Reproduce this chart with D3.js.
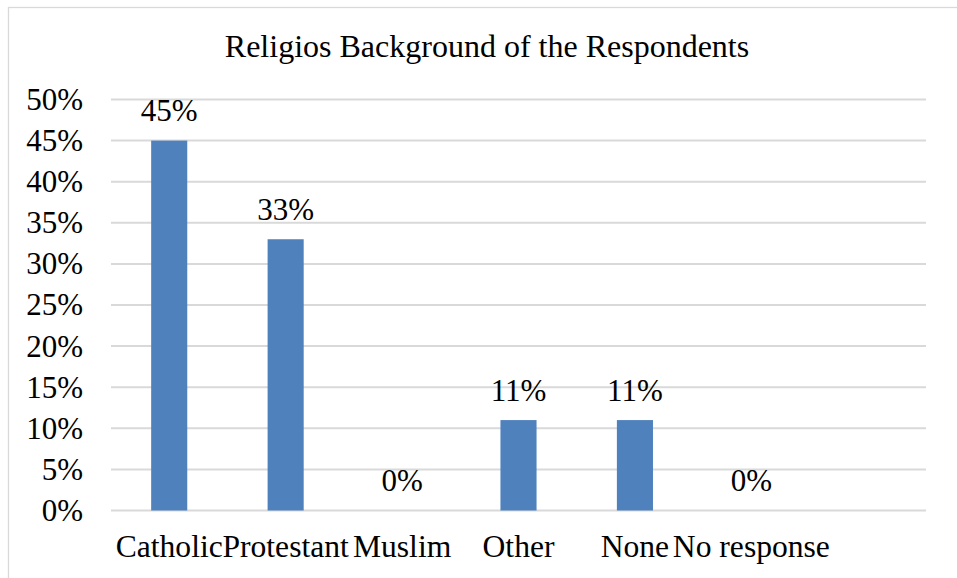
<!DOCTYPE html>
<html>
<head>
<meta charset="utf-8">
<script src="https://cdn.jsdelivr.net/npm/d3@7"></script>
<style>
  html, body { margin: 0; padding: 0; background: #fff; }
  svg { display: block; }
</style>
</head>
<body>
<svg id="chart" width="957" height="578"></svg>
<script>
// Religious background shares (percent)
const categories = ["Catholic", "Protestant", "Muslim", "Other", "None", "No response"];
const values = [45, 33, 0, 11, 11, 0];
const yTicks = [0, 5, 10, 15, 20, 25, 30, 35, 40, 45, 50];
const title = "Religios Background of the Respondents";

const FONT = '"Liberation Serif", "Times New Roman", serif';
const svg = d3.select("#chart");
const W = 957, H = 578;
const plot = { left: 111, right: 926, top: 99.5, bottom: 510.5 };

// Chart frame
svg.append("rect")
  .attr("x", 8.5).attr("y", 7.5)
  .attr("width", W + 20).attr("height", H + 20)
  .attr("fill", "#fff")
  .attr("stroke", "#d9d9d9").attr("stroke-width", 1.3);

// Title
svg.append("text")
  .attr("x", 487).attr("y", 56.5)
  .attr("text-anchor", "middle")
  .style("font-family", FONT)
  .style("font-size", "32px")
  .attr("fill", "#000")
  .text(title);

// Scales: one spare slot after the last category
const x = d3.scaleBand()
  .domain(categories.concat([" "]))
  .range([plot.left, plot.right])
  .paddingInner(0.69)
  .paddingOuter(0.345);

const y = d3.scaleLinear()
  .domain([0, 50])
  .range([plot.bottom, plot.top]);

// Gridlines
svg.append("g")
  .selectAll("line")
  .data(yTicks)
  .join("line")
  .attr("x1", plot.left).attr("x2", plot.right)
  .attr("y1", d => y(d)).attr("y2", d => y(d))
  .attr("stroke", "#d9d9d9").attr("stroke-width", 2);

// Y axis labels
const yAxis = d3.axisLeft(y)
  .tickValues(yTicks)
  .tickFormat(d => d + "%")
  .tickSize(0)
  .tickPadding(28);
const gy = svg.append("g")
  .attr("transform", `translate(${plot.left},0)`)
  .call(yAxis);
gy.select(".domain").remove();
gy.selectAll("text")
  .style("font-family", FONT)
  .style("font-size", "31px")
  .attr("fill", "#000");

// X axis labels
const xAxis = d3.axisBottom(x)
  .tickValues(categories)
  .tickSize(0)
  .tickPadding(0);
const gx = svg.append("g")
  .attr("transform", `translate(0,${plot.bottom})`)
  .call(xAxis);
gx.select(".domain").remove();
gx.selectAll("text")
  .attr("y", 46.5)
  .attr("dy", 0)
  .style("font-family", FONT)
  .style("font-size", "31.6px")
  .attr("fill", "#000");

// Bars
svg.append("g")
  .selectAll("rect")
  .data(categories.map((c, i) => ({ c, v: values[i] })))
  .join("rect")
  .attr("x", d => x(d.c))
  .attr("y", d => y(d.v))
  .attr("width", x.bandwidth())
  .attr("height", d => y(0) - y(d.v))
  .attr("fill", "#4f81bd");

// Value labels
svg.append("g")
  .selectAll("text")
  .data(categories.map((c, i) => ({ c, v: values[i] })))
  .join("text")
  .attr("x", d => x(d.c) + x.bandwidth() / 2)
  .attr("y", d => y(d.v) - 19.5)
  .attr("text-anchor", "middle")
  .style("font-family", FONT)
  .style("font-size", "31px")
  .attr("fill", "#000")
  .text(d => d.v + "%");
</script>
</body>
</html>
